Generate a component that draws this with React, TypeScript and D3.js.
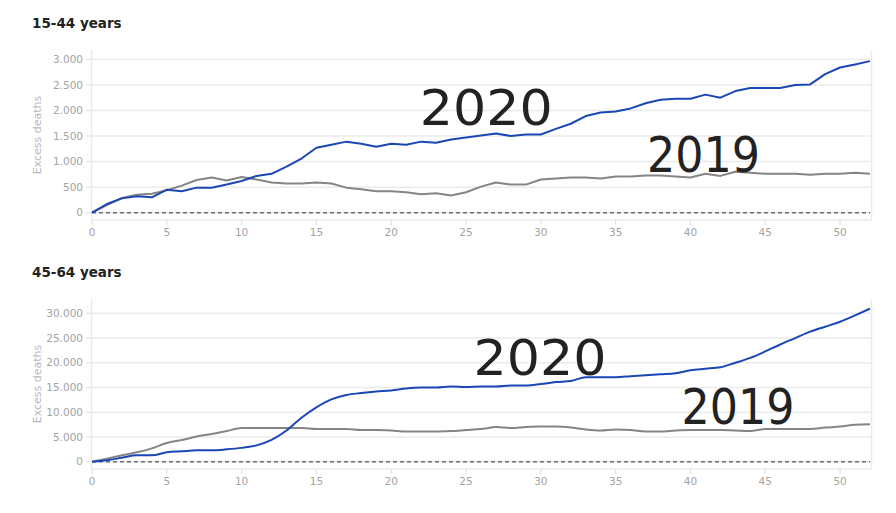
import React from "react";
import * as d3 from "d3";

const weeks: number[] = d3.range(0, 53);

const young2020: number[] = [0, 170, 280, 320, 300, 450, 420, 490, 490, 550, 620, 720, 760, 900, 1060, 1270, 1330, 1390, 1350, 1290, 1350, 1330, 1390, 1370, 1430, 1470, 1510, 1550, 1500, 1530, 1530, 1640, 1740, 1890, 1960, 1980, 2040, 2140, 2210, 2230, 2230, 2310, 2250, 2380, 2440, 2440, 2440, 2500, 2510, 2710, 2840, 2900, 2965];
const young2019: number[] = [0, 150, 290, 350, 370, 440, 530, 640, 690, 630, 700, 650, 590, 570, 570, 590, 570, 490, 460, 420, 420, 400, 360, 380, 335, 400, 510, 590, 550, 550, 650, 670, 690, 690, 670, 710, 710, 730, 730, 710, 690, 760, 720, 800, 780, 760, 760, 760, 740, 760, 760, 780, 760];

const mid2020: number[] = [0, 300, 800, 1300, 1300, 1900, 2100, 2300, 2300, 2500, 2800, 3300, 4400, 6300, 8900, 11000, 12600, 13500, 13900, 14200, 14400, 14800, 15000, 15000, 15200, 15100, 15200, 15200, 15400, 15400, 15700, 16100, 16300, 17100, 17100, 17100, 17300, 17500, 17700, 17900, 18500, 18800, 19100, 20000, 21000, 22300, 23700, 25000, 26300, 27300, 28300, 29600, 30950];
const mid2019: number[] = [0, 600, 1300, 1900, 2700, 3800, 4400, 5100, 5600, 6200, 6800, 6800, 6800, 6800, 6800, 6600, 6600, 6600, 6400, 6400, 6300, 6100, 6100, 6100, 6200, 6400, 6600, 7000, 6800, 7000, 7100, 7100, 6900, 6500, 6300, 6500, 6400, 6100, 6100, 6300, 6400, 6400, 6400, 6300, 6200, 6600, 6600, 6600, 6600, 6900, 7100, 7500, 7600];

const youngTicks: number[] = [0, 500, 1000, 1500, 2000, 2500, 3000];
const midTicks: number[] = [0, 5000, 10000, 15000, 20000, 25000, 30000];
const xTicks: number[] = [0, 5, 10, 15, 20, 25, 30, 35, 40, 45, 50];

// annotation anchors: [week, value]
const youngLabels: [string, number, number][] = [["2020", 21.9, 1716], ["2019", 37.1, 796]];
const midLabels: [string, number, number][] = [["2020", 25.5, 17460], ["2019", 39.4, 7590]];

const titles: string[] = ["15-44 years", "45-64 years"];

const locale = d3.formatLocale({ decimal: ",", thousands: ".", grouping: [3], currency: ["", "€"] });
const fmt = locale.format(",d");

const BLUE = "#1a47b5";
const GRAY = "#858585";
const FONT = "'DejaVu Sans', sans-serif";

interface PanelProps {
  title: string;
  top: number;
  domain: [number, number];
  ticks: number[];
  s2020: number[];
  s2019: number[];
  labels: [string, number, number][];
  curve: d3.CurveFactory;
}

function Panel({ title, top, domain, ticks, s2020, s2019, labels, curve }: PanelProps) {
  const x0 = 92, x1 = 870;
  const yTop = top, yBot = top + 170;
  const x = d3.scaleLinear().domain([0, 52]).range([x0, x1]);
  const y = d3.scaleLinear().domain(domain).range([yBot, yTop]);
  const line = d3.line<number>().x((_, i) => x(weeks[i])).y((d) => y(d)).curve(curve);
  const widths: Record<string, number> = { "2020": 133, "2019": 113 };
  return (
    <g>
      <text x={32} y={top - 22} fontFamily={FONT} fontWeight={700} fontSize={13.5} fill="#222">{title}</text>
      <text transform={`translate(41,${(yTop + yBot) / 2}) rotate(-90)`} textAnchor="middle" fontFamily={FONT} fontSize={11} fill="#b8b8b8">Excess deaths</text>
      {ticks.map((t) => (
        <g key={t}>
          <line x1={x0 - 0.5} x2={x1 + 1.5} y1={y(t)} y2={y(t)} stroke="#ebebeb" strokeWidth={1.5} />
          <line x1={86} x2={91} y1={y(t)} y2={y(t)} stroke="#e0e0e0" strokeWidth={1.2} />
          <text x={83} y={y(t)} dy="0.35em" textAnchor="end" fontFamily={FONT} fontSize={10.5} fill="#a3a3a3">{fmt(t)}</text>
        </g>
      ))}
      <line x1={x0 - 0.5} x2={x0 - 0.5} y1={yTop} y2={yBot} stroke="#ebebeb" strokeWidth={1.5} />
      <line x1={x1 + 1.5} x2={x1 + 1.5} y1={yTop} y2={yBot} stroke="#ebebeb" strokeWidth={1.5} />
      <line x1={x0 - 0.5} x2={x1 + 1.5} y1={yBot} y2={yBot} stroke="#ebebeb" strokeWidth={1.5} />
      {xTicks.map((t) => (
        <g key={t}>
          <line x1={x(t)} x2={x(t)} y1={yBot} y2={yBot + 5} stroke="#e0e0e0" strokeWidth={1.2} />
          <text x={x(t)} y={yBot + 16} textAnchor="middle" fontFamily={FONT} fontSize={10.5} fill="#a3a3a3">{t}</text>
        </g>
      ))}
      <line x1={x0} x2={x1} y1={y(0)} y2={y(0)} stroke="#6e6e6e" strokeWidth={1.5} strokeDasharray="4,3" />
      <path d={line(s2019) || ""} fill="none" stroke={GRAY} strokeWidth={2} strokeLinejoin="round" />
      <path d={line(s2020) || ""} fill="none" stroke={BLUE} strokeWidth={2} strokeLinejoin="round" />
      {labels.map(([txt, wk, v]) => (
        <text key={txt} x={x(wk)} y={y(v)} fontFamily="'DejaVu Sans', sans-serif" fontSize={50} fill="#222"
          textLength={widths[txt]} lengthAdjust="spacingAndGlyphs">{txt}</text>
      ))}
    </g>
  );
}

export default function App() {
  return (
    <svg width={896} height={513} style={{ position: "absolute", left: 0, top: 0, background: "#fff" }}>
      <rect width={896} height={513} fill="#fff" />
      <Panel title={titles[0]} top={50} domain={[-143, 3183]} ticks={youngTicks} s2020={young2020} s2019={young2019} labels={youngLabels} curve={d3.curveLinear} />
      <Panel title={titles[1]} top={299} domain={[-1470, 32900]} ticks={midTicks} s2020={mid2020} s2019={mid2019} labels={midLabels} curve={d3.curveMonotoneX} />
    </svg>
  );
}
